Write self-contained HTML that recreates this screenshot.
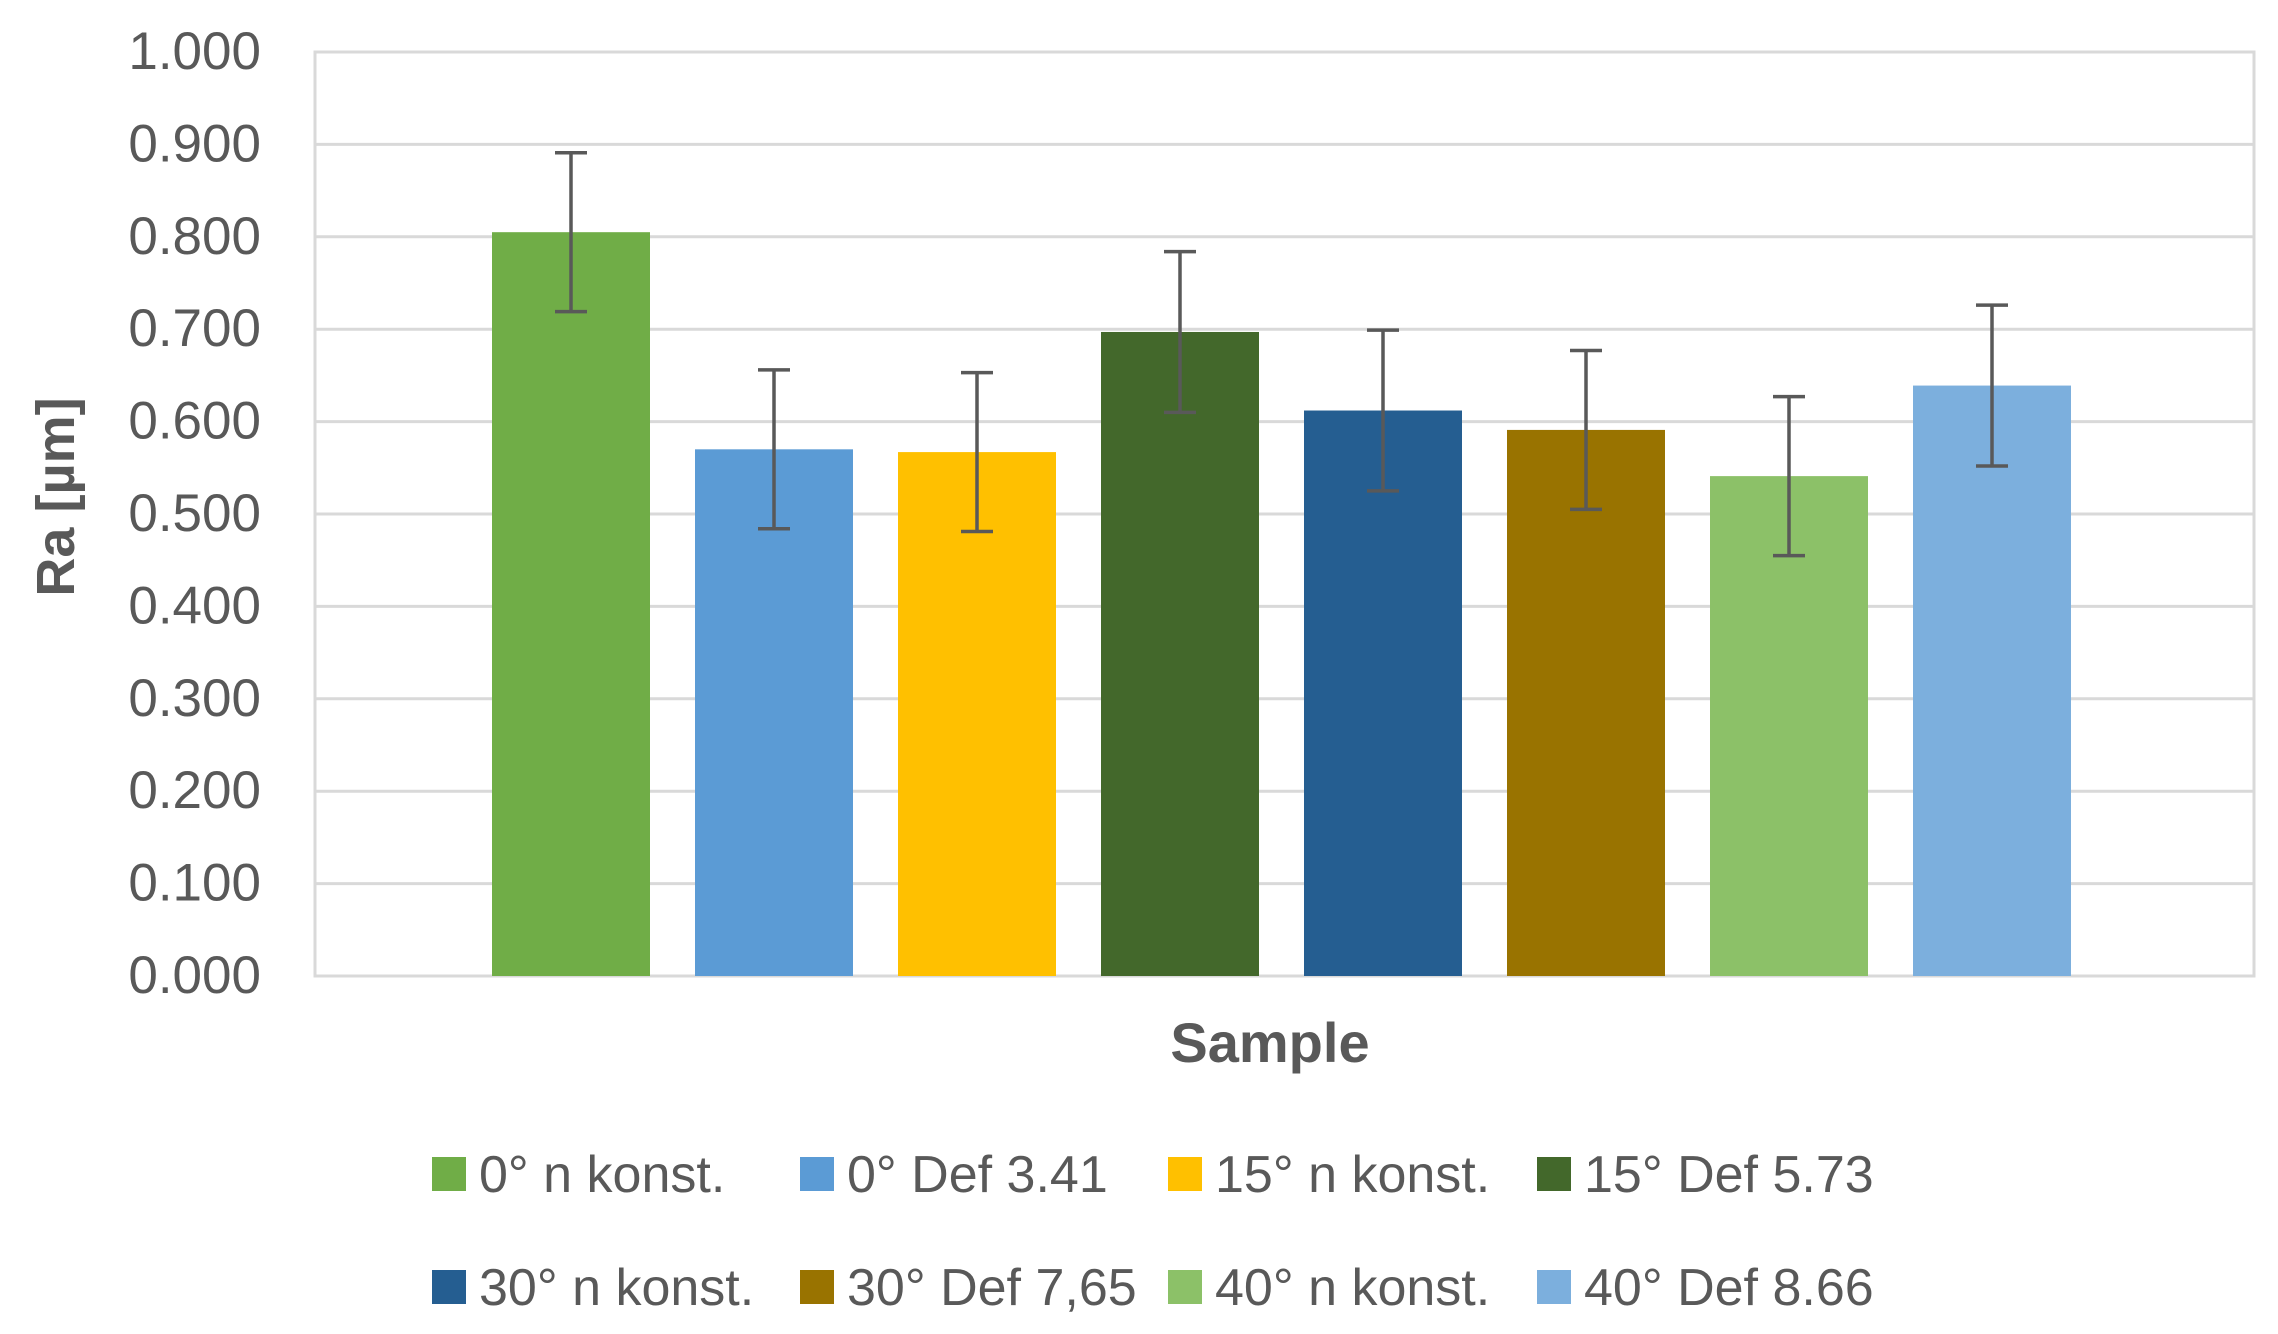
<!DOCTYPE html>
<html><head><meta charset="utf-8"><style>
html,body{margin:0;padding:0;background:#fff;}
svg{display:block;font-family:"Liberation Sans",sans-serif;}
</style></head><body>
<svg id="chart" width="2278" height="1334" viewBox="0 0 2278 1334"></svg>
<script>
const categories = ["0° n konst.","0° Def 3.41","15° n konst.","15° Def 5.73","30° n konst.","30° Def 7,65","40° n konst.","40° Def 8.66"];
const values = [0.805,0.570,0.567,0.697,0.612,0.591,0.541,0.639];
const errors = [0.086,0.086,0.086,0.087,0.087,0.086,0.086,0.087];
const colors = ["#70ad47","#5b9bd5","#ffc000","#43682b","#255e91","#997300","#8cc168","#7cafdd"];
const yTicks = [0,0.1,0.2,0.3,0.4,0.5,0.6,0.7,0.8,0.9,1.0];
const tickLabels = ["0.000","0.100","0.200","0.300","0.400","0.500","0.600","0.700","0.800","0.900","1.000"];

const NS="http://www.w3.org/2000/svg";
const svg=document.getElementById('chart');
const L=315,R=2254,T=52,B=976;
const y=v=>B-(v/1.0)*(B-T);
const step=203, bw=158, cx0=(L+R)/2-step*(categories.length-1)/2 - 3;
const x=i=>cx0+i*step;
function mk(tag,attrs,parent){const e=document.createElementNS(NS,tag);for(const k in attrs)e.setAttribute(k,attrs[k]);(parent||svg).appendChild(e);return e;}

const grid=mk('g',{});


yTicks.forEach((t,i)=>{
  const ln=mk('line',{x1:L,x2:R,y1:y(t),y2:y(t),stroke:'#d9d9d9','stroke-width':3},grid);
  
  
  const tx=mk('text',{x:261,y:y(t)+17,'text-anchor':'end','font-size':53,fill:'#595959'});
  tx.textContent=tickLabels[i];
  
  
});
const fr=mk('rect',{x:L,y:T,width:R-L,height:B-T,fill:'none',stroke:'#d9d9d9','stroke-width':3});



values.forEach((v,i)=>{
  const b=mk('rect',{x:x(i)-bw/2,y:y(v),width:bw,height:B-y(v),fill:colors[i]});
  
  
  const g=mk('g',{stroke:'#595959','stroke-width':3.5,fill:'none'});
  
  
  const hi=y(v+errors[i]),lo=y(v-errors[i]);
  mk('line',{x1:x(i),x2:x(i),y1:hi,y2:lo},g);
  mk('line',{x1:x(i)-16,x2:x(i)+16,y1:hi,y2:hi},g);
  mk('line',{x1:x(i)-16,x2:x(i)+16,y1:lo,y2:lo},g);
});

const yt=mk('text',{x:0,y:0,transform:'translate(74,497) rotate(-90)','text-anchor':'middle','font-size':54,'font-weight':'bold',fill:'#595959'});
yt.textContent='Ra [µm]';


const xt=mk('text',{x:1270,y:1062,'text-anchor':'middle','font-size':56,'font-weight':'bold',fill:'#595959'});
xt.textContent='Sample';



const lx=[432,800,1168,1537], ly=[1174,1287];
categories.forEach((c,i)=>{
  const g=mk('g',{});
  
  
  const X=lx[i%4],Y=ly[Math.floor(i/4)];
  mk('rect',{x:X,y:Y-17,width:34,height:34,fill:colors[i]},g);
  const t=mk('text',{x:X+47,y:Y+18,'font-size':52,fill:'#595959'},g);
  t.textContent=c;
});
</script>
</body></html>
